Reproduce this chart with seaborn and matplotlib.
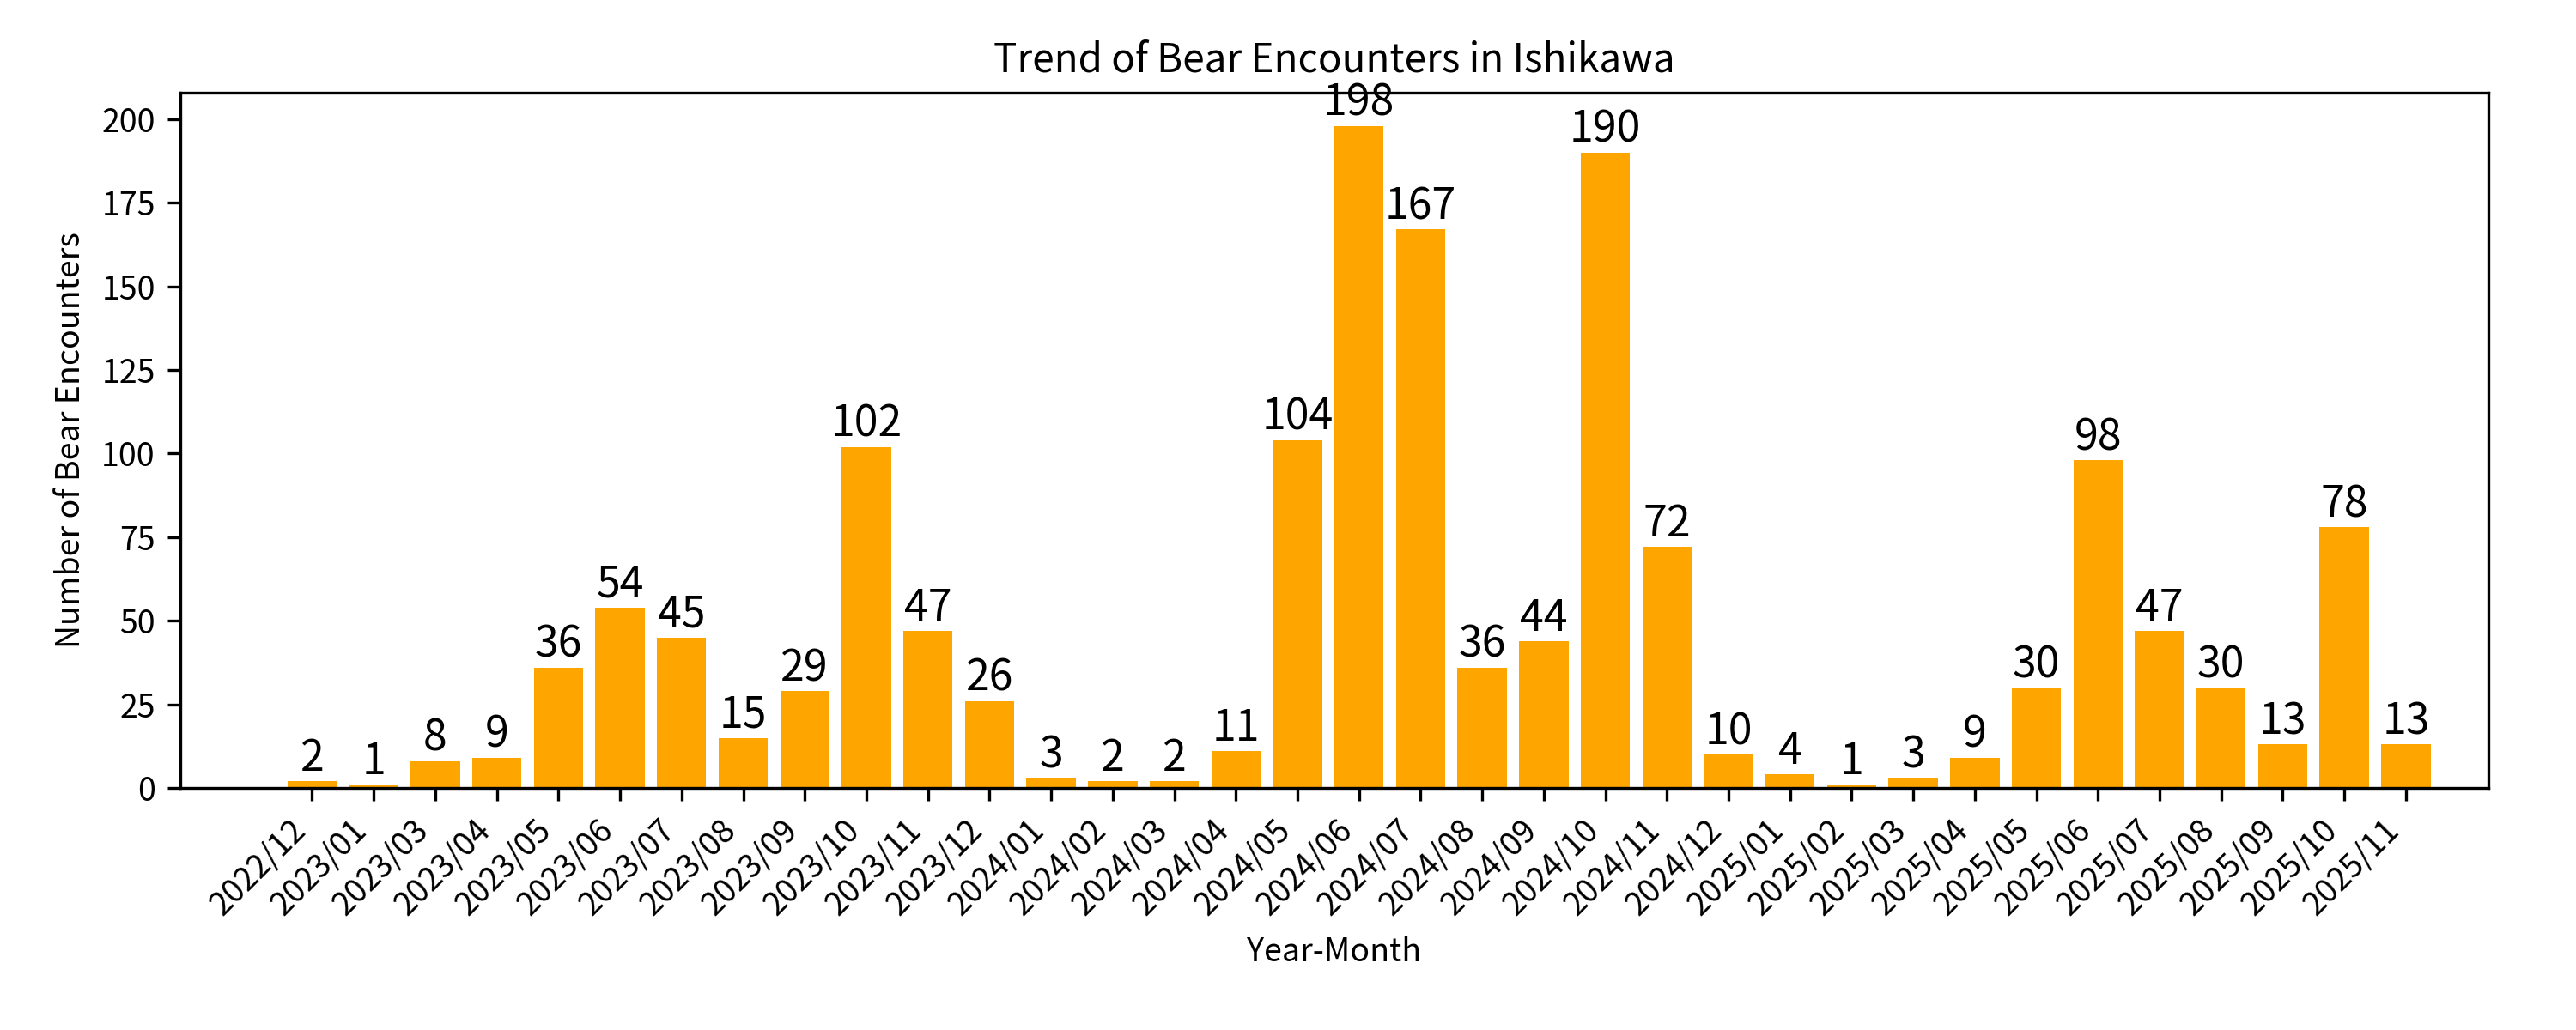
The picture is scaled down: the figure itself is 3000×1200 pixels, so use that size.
import matplotlib
matplotlib.use("Agg")
import matplotlib.pyplot as plt
import seaborn as sns
import pandas as pd

months = ["2022/12","2023/01","2023/03","2023/04","2023/05","2023/06","2023/07","2023/08","2023/09","2023/10","2023/11","2023/12",
          "2024/01","2024/02","2024/03","2024/04","2024/05","2024/06","2024/07","2024/08","2024/09","2024/10","2024/11","2024/12",
          "2025/01","2025/02","2025/03","2025/04","2025/05","2025/06","2025/07","2025/08","2025/09","2025/10","2025/11"]
counts = [2,1,8,9,36,54,45,15,29,102,47,26,3,2,2,11,104,198,167,36,44,190,72,10,4,1,3,9,30,98,47,30,13,78,13]

plt.rcParams['font.family'] = ['Noto Sans CJK JP', 'DejaVu Sans']
df = pd.DataFrame({"month": months, "count": counts})
fig, ax = plt.subplots(figsize=(10, 4), dpi=300)
sns.barplot(data=df, x="month", y="count", color="orange", saturation=1, width=0.8, ax=ax)
for c in ax.containers:
    ax.bar_label(c, fontsize=12, padding=0)
ax.set_xlim(-2.14, 35.34)
ax.set_title("Trend of Bear Encounters in Ishikawa", fontsize=11)
ax.set_xlabel("Year-Month", fontsize=9)
ax.set_ylabel("Number of Bear Encounters", fontsize=9)
plt.setp(ax.get_xticklabels(), rotation=45, ha="right", fontsize=9)
plt.setp(ax.get_yticklabels(), fontsize=9)
fig.subplots_adjust(left=0.07, right=0.966, top=0.91, bottom=0.235)
fig.savefig("out.png")
